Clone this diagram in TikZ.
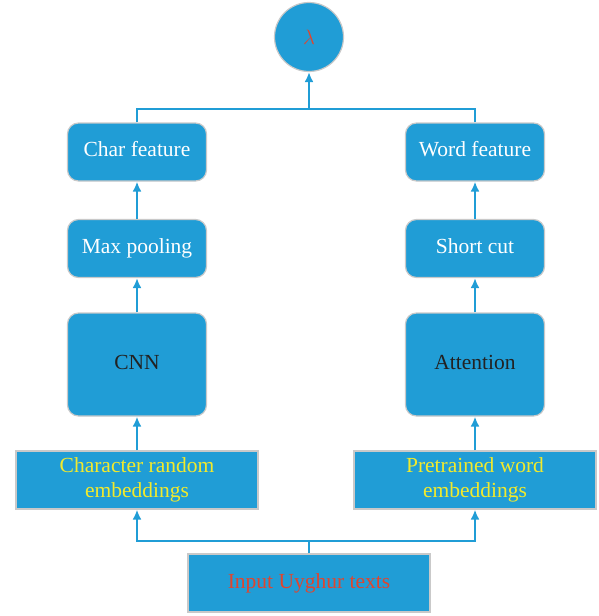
\documentclass[tikz,border=0pt]{standalone}
\usepackage{fontspec}
\setmainfont{Liberation Serif}
\usetikzlibrary{arrows.meta}
\definecolor{boxblue}{HTML}{209DD6}
\definecolor{boxedge}{HTML}{C9C9C9}
\definecolor{txtyellow}{HTML}{F2EA2C}
\definecolor{txtred}{HTML}{E0452E}
\definecolor{txtdark}{HTML}{222222}
\tikzset{
  blk/.style={fill=boxblue, draw=boxedge, line width=1.2pt, inner sep=0pt, align=center,
    font=\fontsize{21.5}{25}\selectfont},
  rbox/.style={blk, rounded corners=11pt, minimum width=139pt, minimum height=58pt, text=white,
    text height=14pt, text depth=5pt},
  sbox/.style={blk, minimum width=242pt, minimum height=58pt},
  conn/.style={draw=boxblue, line width=2pt},
  arr/.style={conn, -{Latex[length=10pt,width=9pt]}},
}
\begin{document}
\begin{tikzpicture}[x=1pt,y=-1pt]
\useasboundingbox (0,0) rectangle (599,616);
\node[circle, fill=boxblue, draw=boxedge, line width=1.2pt, minimum size=69pt, inner sep=0pt,
      text=txtred, font=\fontsize{22}{25}\selectfont] (lam) at (309,37) {$\lambda$};
\node[rbox] (cf) at (137,152) {Char feature};
\node[rbox] (mp) at (137,248.5) {Max pooling};
\node[rbox, minimum height=103pt, text=txtdark] (cnn) at (137,364.5) {CNN};
\node[rbox] (wf) at (475,152) {Word feature};
\node[rbox] (sc) at (475,248.5) {Short cut};
\node[rbox, minimum height=103pt, text=txtdark] (att) at (475,364.5) {Attention};
\node[sbox, text=txtyellow] (cre) at (137,480) {Character random\\embeddings};
\node[sbox, text=txtyellow] (pwe) at (475,480) {Pretrained word\\embeddings};
\node[sbox, text=txtred] (inp) at (309,583) {Input Uyghur texts};
\coordinate (split) at (309,541);
\coordinate (join) at (309,109);
\draw[conn] (inp.north) -- (split);
\draw[arr] (split) -| (cre.south);
\draw[arr] (split) -| (pwe.south);
\draw[arr] (cre.north) -- (cnn.south);
\draw[arr] (pwe.north) -- (att.south);
\draw[arr] (cnn.north) -- (mp.south);
\draw[arr] (att.north) -- (sc.south);
\draw[arr] (mp.north) -- (cf.south);
\draw[arr] (sc.north) -- (wf.south);
\draw[conn] (cf.north) |- (join);
\draw[conn] (wf.north) |- (join);
\draw[arr] (join) -- (lam.south);
\end{tikzpicture}
\end{document}
